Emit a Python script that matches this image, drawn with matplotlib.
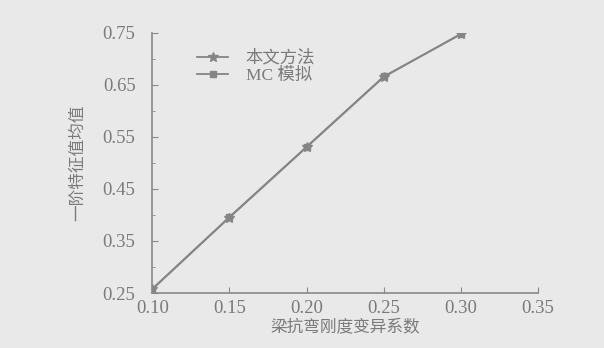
import matplotlib
matplotlib.use("Agg")
import matplotlib.pyplot as plt
from matplotlib.ticker import MultipleLocator

plt.rcParams['font.family'] = ['Liberation Serif', 'Noto Sans CJK SC']

x = [0.10, 0.15, 0.20, 0.25, 0.30]
proposed = [0.257, 0.395, 0.530, 0.665, 0.748]
mc = [0.258, 0.396, 0.531, 0.666, 0.747]
xticks = [0.10, 0.15, 0.20, 0.25, 0.30, 0.35]
yticks = [0.25, 0.35, 0.45, 0.55, 0.65, 0.75]

bg = '#e9e9e9'
ink = '#7a7a7a'
fig = plt.figure(figsize=(6.04, 3.48), dpi=100, facecolor=bg)
ax = fig.add_axes([0.252, 0.158, 0.639, 0.748], facecolor=bg)

ax.plot(x, proposed, color='#858585', lw=1.3, marker='*', ms=7, label='本文方法')
ax.plot(x, mc, color='#858585', lw=1.3, marker='s', ms=4.5, label='MC 模拟')

ax.set_xlim(0.10, 0.35)
ax.set_ylim(0.25, 0.75)
ax.set_xticks(xticks)
ax.set_yticks(yticks)
ax.set_xticklabels([f'{v:.2f}' for v in xticks])
ax.set_yticklabels([f'{v:.2f}' for v in yticks])
ax.yaxis.set_minor_locator(MultipleLocator(0.05))
for s in ['top', 'right']:
    ax.spines[s].set_visible(False)
for s in ['left', 'bottom']:
    ax.spines[s].set_color('#888888')
    ax.spines[s].set_linewidth(1.2)
ax.tick_params(direction='in', colors='#888888', labelcolor=ink, labelsize=13.5, length=4)
ax.tick_params(which='minor', direction='in', colors='#888888', length=2.5)
ax.tick_params(axis='x', pad=5)
ax.tick_params(axis='y', pad=12)

ax.set_xlabel('梁抗弯刚度变异系数', color=ink, fontsize=12, labelpad=2)
ax.set_ylabel('一阶特征值均值', color=ink, fontsize=12, labelpad=12)

leg = ax.legend(loc='upper left', bbox_to_anchor=(0.085, 0.98), frameon=False,
                fontsize=12.5, labelcolor=ink, handlelength=1.8, borderpad=0.2,
                labelspacing=0.05, handletextpad=1.0)

fig.savefig('out.png', dpi=100, facecolor=bg)
